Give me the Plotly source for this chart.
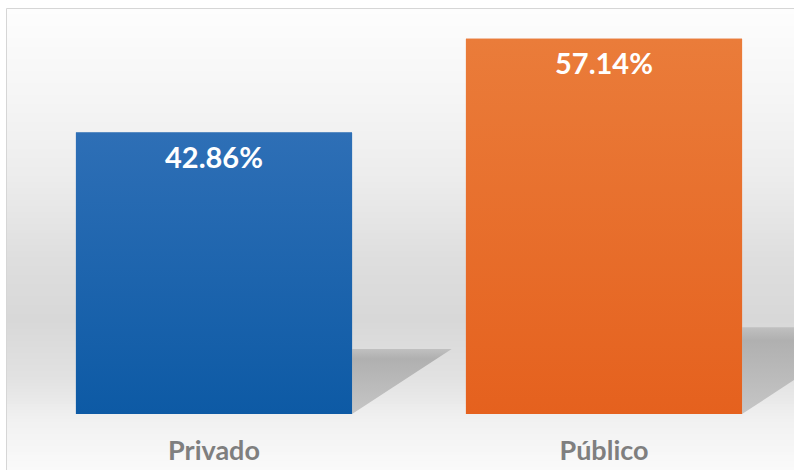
import plotly.graph_objects as go

# ---- data ----
categories = ["Privado", "Público"]
values = [42.86, 57.14]
value_labels = ["42.86%", "57.14%"]

# ---- styles ----
W, H = 794, 470
ML, MR, MT, MB = 19, 0, 20, 56
plot_w = W - ML - MR
plot_h = H - MT - MB
cat_px = 390.0
x_range = [-0.5, -0.5 + plot_w / cat_px]
y_range = [0, 60]
bar_width = 0.708

bar_top_colors = ["#2e6fb6", "#ea7c3a"]
bar_bot_colors = ["#0d5aa5", "#e5611e"]
bar_mid_colors = ["#1f64ae", "#e76e2c"]

def px_to_paper_x(px):
    return (px - ML) / plot_w

def px_to_paper_y(py):
    return (H - MB - py) / plot_h

# background gradient stops (pixel y, gray level)
bg_stops = [(8, 253), (100, 245), (180, 236), (260, 222), (320, 216),
            (380, 226), (420, 241), (470, 250)]

def gray_at(py):
    for (y0, g0), (y1, g1) in zip(bg_stops[:-1], bg_stops[1:]):
        if y0 <= py <= y1:
            t = (py - y0) / (y1 - y0)
            return g0 + (g1 - g0) * t
    return bg_stops[-1][1]

shapes = []
step = 3
py = 8
while py < H:
    g = int(round(gray_at(py + step / 2)))
    shapes.append(dict(type="rect", xref="paper", yref="paper", layer="below",
                       x0=px_to_paper_x(6.5), x1=px_to_paper_x(W + 5),
                       y0=px_to_paper_y(py + step + 0.5), y1=px_to_paper_y(py),
                       fillcolor=f"rgb({g},{g},{g})", line=dict(width=0)))
    py += step
# frame
shapes.append(dict(type="rect", xref="paper", yref="paper", layer="below",
                   x0=px_to_paper_x(6.5), x1=px_to_paper_x(W + 5),
                   y0=px_to_paper_y(H + 5), y1=px_to_paper_y(8.5),
                   fillcolor="rgba(0,0,0,0)", line=dict(color="#d6d6d6", width=1)))

fig = go.Figure()

xs = list(range(len(categories)))

# shadows (derived from bar values)
shadow_ratio = 0.231
shadow_slope = 0.0258  # category units per % of shadow height
for i, v in zip(xs, values):
    h = v * shadow_ratio
    xr = i + bar_width / 2
    fig.add_trace(go.Scatter(
        x=[xr, xr, xr + h * shadow_slope, xr],
        y=[0, h, h, 0],
        mode="lines", line=dict(width=0), fill="toself",
        fillgradient=dict(type="vertical",
                          colorscale=[[0, "rgb(198,198,198)"], [0.85, "rgb(176,176,176)"],
                                      [1, "rgb(192,192,192)"]]),
        hoverinfo="skip", showlegend=False))

# bars
fig.add_trace(go.Bar(
    x=xs, y=values, width=bar_width,
    marker=dict(color=bar_mid_colors, line=dict(width=0)),
    hoverinfo="skip", showlegend=False))

# gradient overlays on bars
for i, v in zip(xs, values):
    x0 = i - bar_width / 2
    x1 = i + bar_width / 2
    fig.add_trace(go.Scatter(
        x=[x0, x1, x1, x0, x0], y=[0, 0, v, v, 0],
        mode="lines", line=dict(width=0), fill="toself",
        fillgradient=dict(type="vertical",
                          colorscale=[[0, bar_bot_colors[i]], [1, bar_top_colors[i]]]),
        hoverinfo="skip", showlegend=False))

annotations = []
for i, v, lab in zip(xs, values, value_labels):
    annotations.append(dict(x=i, y=v, xref="x", yref="y", text=lab, showarrow=False,
                            yanchor="middle", yshift=-24,
                            font=dict(family="Lato", size=29, color="white", weight="bold")))

fig.update_layout(
    width=W, height=H,
    margin=dict(l=ML, r=MR, t=MT, b=MB, pad=0),
    paper_bgcolor="white",
    plot_bgcolor="rgba(0,0,0,0)",
    shapes=shapes,
    annotations=annotations,
    xaxis=dict(range=x_range, tickvals=xs, ticktext=categories,
               showgrid=False, zeroline=False, showline=False, ticks="",
               ticklabelstandoff=18,
               tickfont=dict(family="Lato", size=27, color="#7f7f7f", weight="bold")),
    yaxis=dict(range=y_range, visible=False, showgrid=False, zeroline=False),
    showlegend=False,
)

fig.write_html("out.html",
               config={"displayModeBar": False},
               post_script="document.body.style.margin='0';document.body.style.overflow='hidden';")
